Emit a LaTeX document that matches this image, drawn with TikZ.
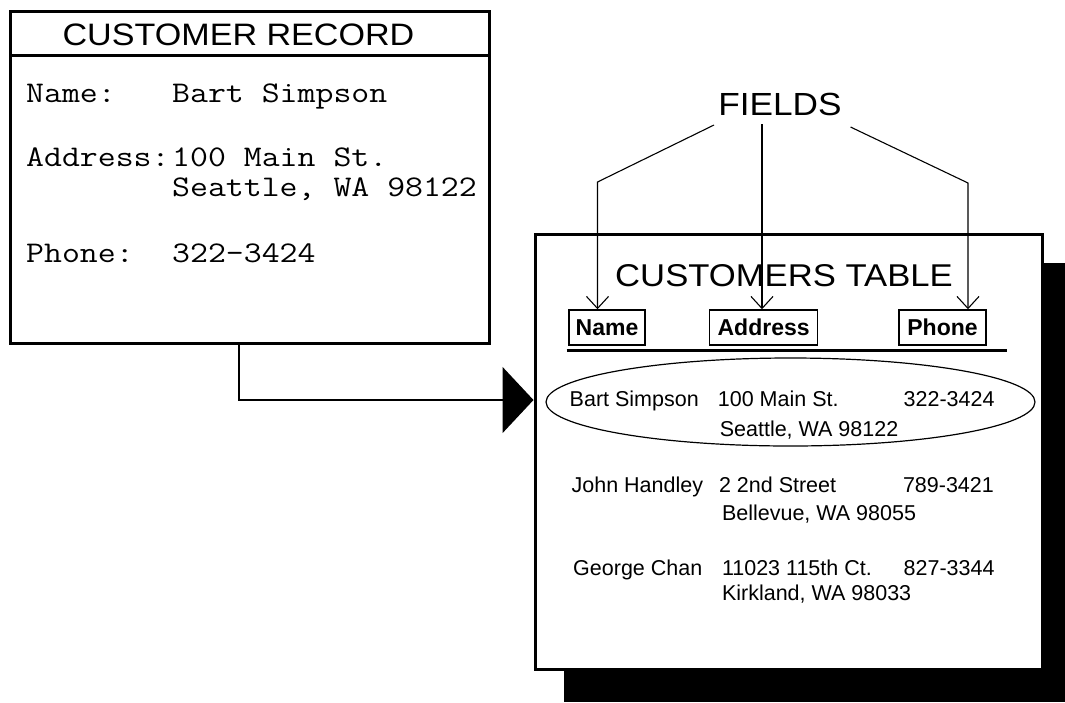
\documentclass[tikz,border=0pt]{standalone}
\usepackage{fontspec}
\setmainfont{Liberation Sans}
\newfontfamily\widesans[FakeStretch=1.1]{Liberation Sans}
\usetikzlibrary{arrows.meta,shapes.geometric}
\newcommand{\monowide}[1]{\scalebox{1.16}[1]{#1}}
\begin{document}
\begin{tikzpicture}[x=1pt,y=-1pt,
  monotxt/.style={anchor=base west, inner sep=0, font=\ttfamily\fontsize{30}{36}\selectfont},
  rowtxt/.style={anchor=base west, inner sep=0, font=\fontsize{21.5}{26}\selectfont},
  headtxt/.style={anchor=base, inner sep=0},
  fieldbox/.style={draw, line width=1.5pt, inner sep=0, minimum height=35pt, text height=16.5pt, text depth=0pt, font=\bfseries\fontsize{23}{27}\selectfont},
  fieldarrow/.style={line width=1.1pt, -{Straight Barb[length=12pt,width=22pt]}},
  bigarrow/.style={line width=1.5pt, -{Triangle[length=31pt,width=66pt]}},
  thickbox/.style={draw, line width=3pt, inner sep=0},
]
\useasboundingbox (0,0) rectangle (1065,702);
\fill[white] (0,0) rectangle (1065,702);

% customer record
\node[thickbox, minimum width=478.5pt, minimum height=331.5pt] (rec) at (249.75,177.25) {};
\draw[line width=3pt] (rec.west |- 0,55) -- (rec.east |- 0,55);
\node[headtxt, font=\widesans\fontsize{31}{36}\selectfont] (rectitle) at (238.5,45) {CUSTOMER RECORD};
\node[monotxt] (lname) at (26,102) {\monowide{Name:}};
\node[monotxt] (vname) at (172,102) {\monowide{Bart Simpson}};
\node[monotxt] (laddr) at (26,166) {\monowide{Address:}};
\node[monotxt] (vaddr1) at (172,166) {\monowide{100 Main St.}};
\node[monotxt] (vaddr2) at (172,196) {\monowide{Seattle, WA 98122}};
\node[monotxt] (lphone) at (26,262) {\monowide{Phone:}};
\node[monotxt] (vphone) at (172,262) {\monowide{322-3424}};

% customers table with shadow
\fill[black] (564,263) rectangle (1065,702);
\node[thickbox, fill=white, minimum width=507pt, minimum height=435pt] (tbl) at (788.5,451.5) {};
\node[headtxt, font=\widesans\fontsize{31.5}{36}\selectfont] (tbltitle) at (784,286) {CUSTOMERS TABLE};

\node[fieldbox, minimum width=76pt] (fname) at (607,327.5) {Name};
\node[fieldbox, minimum width=108pt] (faddr) at (763.6,327.5) {Address};
\node[fieldbox, minimum width=87pt] (fphone) at (942.5,327.5) {Phone};
\draw[line width=3pt] (566.6,350) -- (1007,350);

\node[draw, ellipse, line width=1.2pt, inner sep=0, minimum width=489pt, minimum height=88pt] (sel) at (790.5,402) {};

\node[rowtxt] (r1n) at (569.5,406) {Bart Simpson};
\node[rowtxt] (r1a) at (717.7,406) {100 Main St.};
\node[rowtxt] (r1p) at (903.5,406) {322-3424};
\node[rowtxt] (r1b) at (719.6,436) {Seattle, WA 98122};

\node[rowtxt] (r2n) at (571.4,492) {John Handley};
\node[rowtxt] (r2a) at (718.8,492) {2 2nd Street};
\node[rowtxt] (r2p) at (902.8,492) {789-3421};
\node[rowtxt] (r2b) at (721.8,520) {Bellevue, WA 98055};

\node[rowtxt] (r3n) at (573,575) {George Chan};
\node[rowtxt] (r3a) at (721.8,575) {11023 115th Ct.};
\node[rowtxt] (r3p) at (903.5,575) {827-3344};
\node[rowtxt] (r3b) at (721.8,600) {Kirkland, WA 98033};

% fields
\node[headtxt, font=\widesans\fontsize{32}{36}\selectfont] (fields) at (780,115) {FIELDS};
\coordinate (fL0) at (714,125);
\coordinate (fM0) at (762,124);
\coordinate (fR0) at (850.5,127);
\coordinate (fL1) at (597.5,182);
\coordinate (fR1) at (968,183);
\draw[fieldarrow] (fL0) -- (fL1) -- (fL1 |- fname.north);
\draw[fieldarrow] (fM0) -- (fM0 |- faddr.north);
\draw[fieldarrow] (fR0) -- (fR1) -- (fR1 |- fphone.north);

% record to table
\coordinate (recout) at (239,343);
\draw[bigarrow] (recout) |- (tbl.west |- 0,400);
\end{tikzpicture}
\end{document}
